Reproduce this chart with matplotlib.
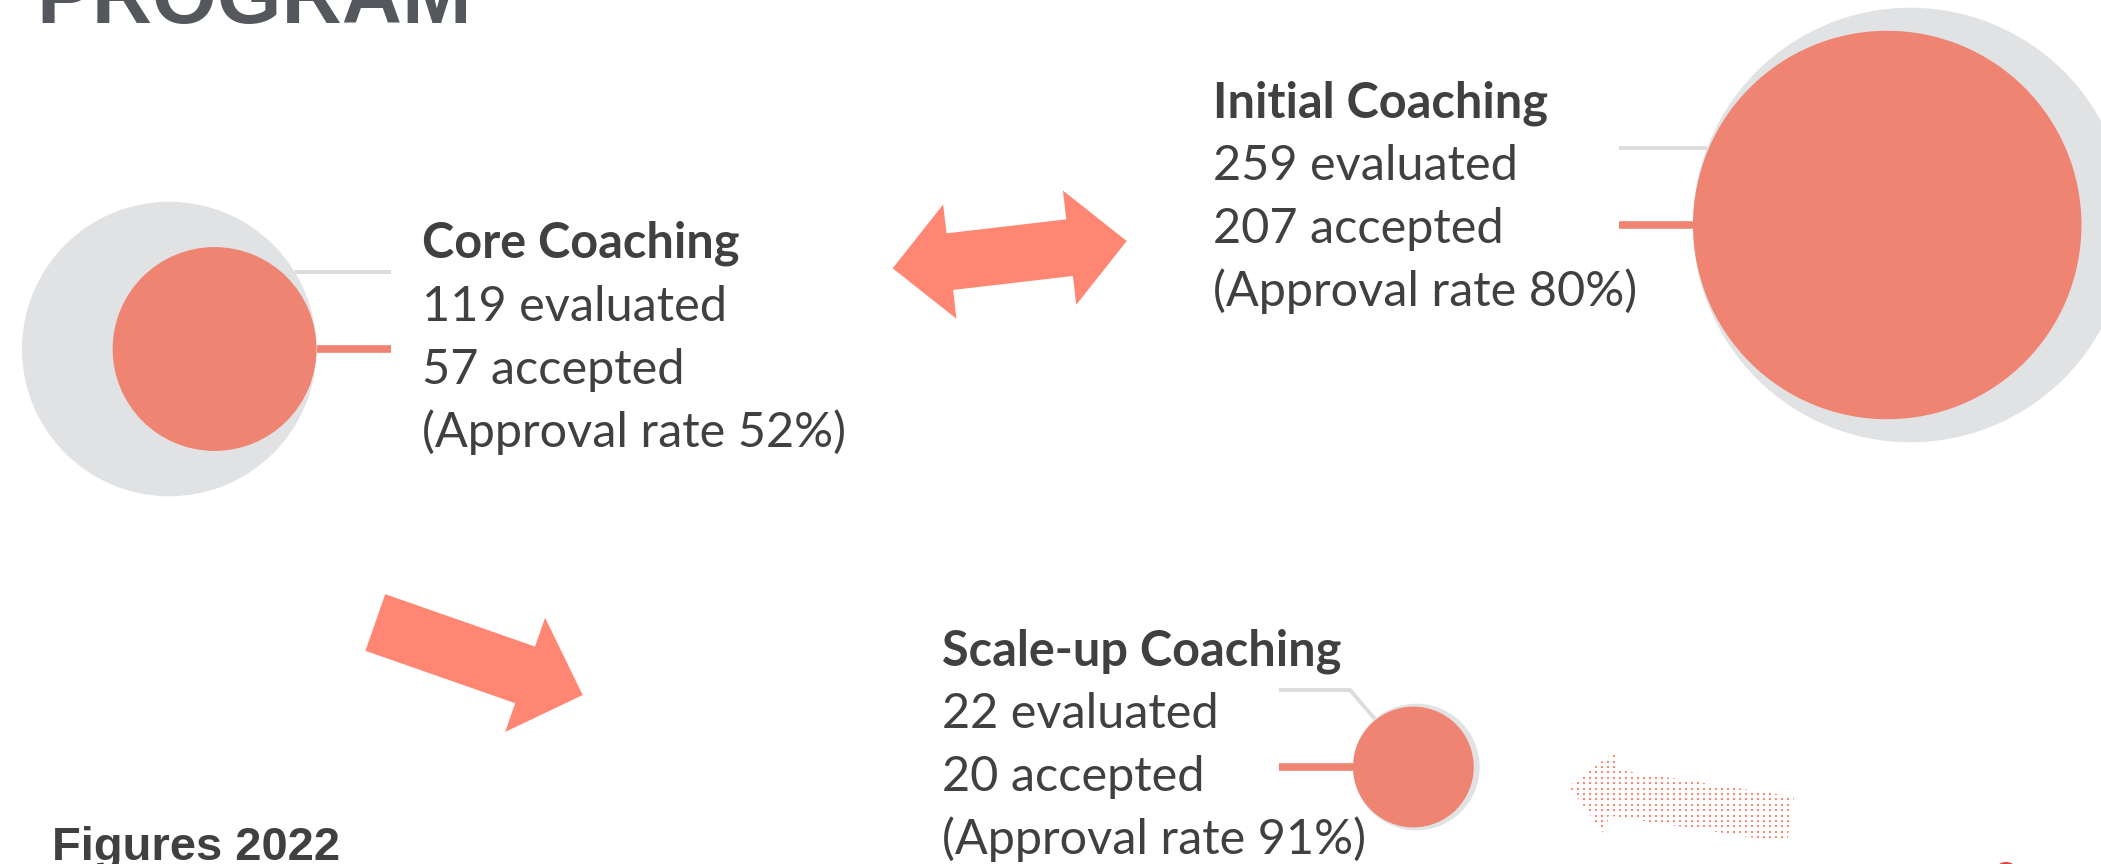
import numpy as np
import matplotlib.pyplot as plt
import matplotlib.patches as mpatches

# --- data ---
programs = ["Core Coaching", "Initial Coaching", "Scale-up Coaching"]
evaluated = [119, 259, 22]
accepted = [57, 207, 20]
approval_rate = [52, 80, 91]

# --- colours ---
CORAL = "#EF8473"
ARROW = "#FF8672"
GREY_BUBBLE = "#E1E2E3"
GREY_LINE = "#DCDCDC"
TEXT = "#404040"
TITLE = "#54575B"

W, H = 2101, 864
fig = plt.figure(figsize=(W / 100, H / 100), dpi=100)
ax = fig.add_axes([0, 0, 1, 1])
ax.set_xlim(0, W)
ax.set_ylim(H, 0)  # pixel-like coords, y grows downwards
ax.axis("off")

renderer = fig.canvas.get_renderer()


def fit_size(s, target_w, **kw):
    # find the font size that makes a string as wide as target_w pixels
    t = ax.text(0, 0, s, fontsize=100, **kw)
    w = t.get_window_extent(renderer).width
    t.remove()
    return 100 * target_w / w


def arrow_poly(tail, tip, shaft_w, head_w, head_len, double=False):
    tail = np.array(tail, float)
    tip = np.array(tip, float)
    d = tip - tail
    L = np.hypot(*d)
    if double:
        pts = [(0, 0), (head_len, -head_w / 2), (head_len, -shaft_w / 2),
               (L - head_len, -shaft_w / 2), (L - head_len, -head_w / 2), (L, 0),
               (L - head_len, head_w / 2), (L - head_len, shaft_w / 2),
               (head_len, shaft_w / 2), (head_len, head_w / 2)]
    else:
        pts = [(0, -shaft_w / 2), (L - head_len, -shaft_w / 2), (L - head_len, -head_w / 2),
               (L, 0), (L - head_len, head_w / 2), (L - head_len, shaft_w / 2), (0, shaft_w / 2)]
    pts = np.array(pts)
    u = d / L
    n = np.array([-u[1], u[0]])
    return tail + pts[:, :1] * u + pts[:, 1:] * n


# --- bubbles ---
k = 13.5  # radius in px per sqrt(count)
anchors = [(316.5, 349), (1693, 225), (1353, 767)]  # point where both circles touch
sides = [1, -1, -1]                                   # +1: label on the right
label_pos = [(422, 258), (1213, 117), (942, 665)]
line_gap = 63
leader = 74
grey_dy = 77

body_size = fit_size("(Approval rate 52%)", 425, family="Lato")

for i in range(len(programs)):
    x0, y0 = anchors[i]
    s = sides[i]
    r_ev = k * np.sqrt(evaluated[i])
    r_ac = k * np.sqrt(accepted[i])
    gx = x0 - s * r_ev
    cx = x0 - s * r_ac

    ax.add_patch(mpatches.Circle((gx, y0), r_ev, color=GREY_BUBBLE, lw=0, zorder=2))
    ax.add_patch(mpatches.Circle((cx, y0), r_ac, color=CORAL, lw=0, zorder=3))

    # leader lines
    x_end = x0 + s * leader
    ax.plot([x0, x_end], [y0, y0], color=CORAL, lw=5.5, solid_capstyle="butt", zorder=1)
    gy = y0 - grey_dy
    if r_ev > grey_dy:
        x_c = gx + s * np.sqrt(r_ev ** 2 - grey_dy ** 2)
        ax.plot([x_c, x_end], [gy, gy], color=GREY_LINE, lw=2.8, solid_capstyle="butt", zorder=1)
    else:
        ex = x0 - 3
        v = np.array([ex - gx, gy - y0])
        v = v / np.hypot(*v)
        px, py = gx + v[0] * r_ev, y0 + v[1] * r_ev
        ax.plot([x_end, ex, px], [gy, gy, py], color=GREY_LINE, lw=2.8,
                solid_capstyle="butt", zorder=1)

    # label block
    lx, ly = label_pos[i]
    lines = [programs[i], f"{evaluated[i]} evaluated", f"{accepted[i]} accepted",
             f"(Approval rate {approval_rate[i]}%)"]
    for j, line in enumerate(lines):
        ax.text(lx, ly + j * line_gap, line, family="Lato", fontsize=body_size,
                fontweight="bold" if j == 0 else "normal", color=TEXT,
                ha="left", va="baseline", zorder=4)

# --- arrows ---
ax.add_patch(mpatches.Polygon(arrow_poly((892.7, 268.3), (1126.7, 241), 57, 115, 57.5, double=True),
                              closed=True, color=ARROW, lw=0))
ax.add_patch(mpatches.Polygon(arrow_poly((375.3, 622.5), (582.7, 695), 60, 121, 61),
                              closed=True, color=ARROW, lw=0))

# dotted arrow (pattern fill)
dot_arrow = mpatches.Polygon(arrow_poly((1790.5, 819.7), (1569, 786), 46.6, 88.5, 43.5),
                             closed=True, facecolor="none", edgecolor="none")
ax.add_patch(dot_arrow)
xs, ys = np.meshgrid(np.arange(1560, 1800, 6.0), np.arange(740, 850, 5.4))
dots = ax.scatter(xs.ravel(), ys.ravel(), marker="s", s=4.0, color=ARROW, linewidths=0)
dots.set_clip_path(dot_arrow)

# corner logo fragment
ax.add_patch(mpatches.Ellipse((2006, 880), 30, 36, color="#E8413C", lw=0))

# --- titles ---
title_size = fit_size("PROGRAM", 435, family="Liberation Sans", fontweight="bold")
ax.text(36, 23, "PROGRAM", family="Liberation Sans", fontweight="bold",
        fontsize=title_size, color=TITLE, ha="left", va="baseline")

fig_size = fit_size("Figures 2022", 288, family="Liberation Sans", fontweight="bold")
ax.text(52, 860, "Figures 2022", family="Liberation Sans", fontweight="bold",
        fontsize=fig_size, color=TEXT, ha="left", va="baseline")

fig.savefig("out.png", dpi=100, facecolor="white")
